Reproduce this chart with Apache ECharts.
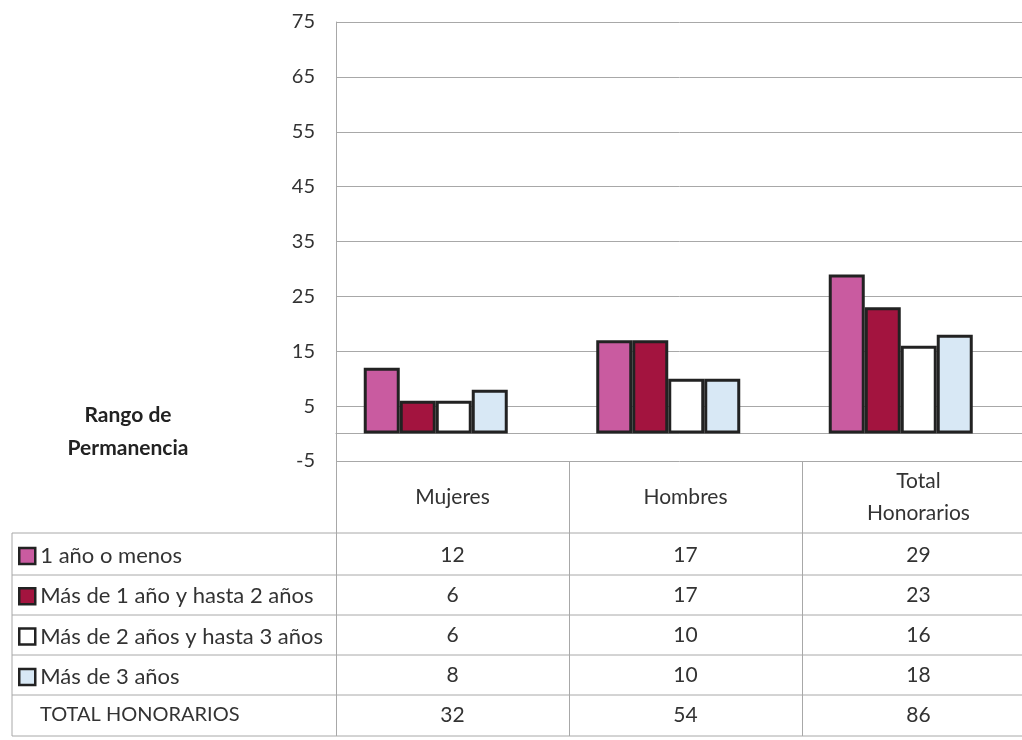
<!DOCTYPE html>
<html>
<head>
<meta charset="utf-8">
<style>
  html, body { margin: 0; background: #fff; }
  #chart { width: 1022px; height: 740px; }
</style>
<script src="https://cdn.jsdelivr.net/npm/echarts@6/dist/echarts.min.js"></script>
</head>
<body>
<div id="chart"></div>
<script>
  // datos
  const categories = ['Mujeres', 'Hombres', 'Total\nHonorarios'];
  const seriesNames = ['1 año o menos', 'Más de 1 año y hasta 2 años', 'Más de 2 años y hasta 3 años', 'Más de 3 años'];
  const unAnio = [12, 17, 29];
  const unoADos = [6, 17, 23];
  const dosATres = [6, 10, 16];
  const masDeTres = [8, 10, 18];
  const totalLabel = 'TOTAL HONORARIOS';
  const totalRow = [32, 54, 86];
  const yMin = -5, yMax = 75, yStep = 10;

  const seriesData = [unAnio, unoADos, dosATres, masDeTres];
  const colors = ['#C95BA0', '#A3143F', '#FFFFFF', '#D8E8F5'];
  const font = 'Lato, "Open Sans", sans-serif';
  const lineGrey = '#a8a8a8';

  const chart = echarts.init(document.getElementById('chart'));

  // table rows below the plot, one hidden axis per row
  const tableRows = seriesData.concat([totalRow]);
  const rowMargins = [94, 134, 174, 214, 254];
  const rowAxes = tableRows.map((row, i) => ({
    gridIndex: 0,
    type: 'category',
    data: categories,
    position: 'bottom',
    axisLine: { show: false, onZero: false },
    axisTick: { show: false },
    splitLine: { show: false },
    axisLabel: {
      margin: rowMargins[i],
      verticalAlign: 'middle',
      fontSize: 21,
      color: '#333',
      fontFamily: font,
      formatter: (v, idx) => String(row[idx])
    }
  }));

  const tableLinesY = [533, 575, 615, 655, 695, 736];

  const option = {
    backgroundColor: '#fff',
    animation: false,
    grid: [
      { left: 336, top: 22, width: 699, height: 439, outerBoundsMode: 'none' },
      { left: 319.5, top: 22, width: 697.5, height: 439, outerBoundsMode: 'none' }
    ],
    legend: {
      data: seriesNames,
      orient: 'vertical',
      left: 18,
      top: 545,
      padding: 0,
      itemWidth: 16,
      itemHeight: 16,
      itemGap: 18.3,
      icon: 'rect',
      selectedMode: false,
      itemStyle: { borderColor: '#222', borderWidth: 2.5 },
      textStyle: { fontSize: 22, lineHeight: 22, color: '#333', fontFamily: font }
    },
    xAxis: [
      {
        gridIndex: 0,
        type: 'category',
        data: categories,
        axisLine: { onZero: true, lineStyle: { color: lineGrey } },
        axisTick: { show: false },
        axisLabel: { show: false }
      },
      {
        gridIndex: 0,
        type: 'category',
        data: categories,
        position: 'bottom',
        axisLine: { show: false, onZero: false },
        axisTick: { show: true, length: 275, lineStyle: { color: lineGrey } },
        axisLabel: {
          margin: 36,
          verticalAlign: 'middle',
          fontSize: 21,
          lineHeight: 32,
          color: '#333',
          fontFamily: font
        }
      }
    ].concat(rowAxes).concat([
      { gridIndex: 1, type: 'category', data: categories, show: false }
    ]),
    yAxis: [
      {
        gridIndex: 0,
        type: 'value',
        min: yMin,
        max: yMax,
        interval: yStep,
        axisLine: { show: true, lineStyle: { color: lineGrey } },
        axisTick: { show: false },
        splitLine: { lineStyle: { color: lineGrey } },
        axisLabel: { margin: 21, fontSize: 20, color: '#333', fontFamily: font }
      },
      { gridIndex: 1, type: 'value', min: yMin, max: yMax, show: false }
    ],
    series: seriesData.map((d, i) => ({
      name: seriesNames[i],
      type: 'bar',
      xAxisIndex: 2 + tableRows.length,
      yAxisIndex: 1,
      data: d,
      barWidth: 36,
      barGap: '0%',
      itemStyle: { color: colors[i], borderColor: '#222', borderWidth: 3 }
    })),
    graphic: [
      {
        type: 'text',
        x: 128,
        y: 432,
        style: {
          text: 'Rango de\nPermanencia',
          align: 'center',
          verticalAlign: 'middle',
          lineHeight: 33,
          fill: '#222',
          font: 'bold 21px ' + font
        }
      },
      {
        type: 'text',
        x: 40,
        y: 715,
        style: { text: totalLabel, verticalAlign: 'middle', fill: '#333', font: '20px ' + font }
      },
      {
        type: 'line',
        shape: { x1: 12, y1: 533, x2: 12, y2: 736 },
        style: { stroke: lineGrey, lineWidth: 1 }
      }
    ].concat(tableLinesY.map(y => ({
      type: 'line',
      shape: { x1: 12, y1: y, x2: 1022, y2: y },
      style: { stroke: lineGrey, lineWidth: 1 }
    })))
  };

  chart.setOption(option);
</script>
</body>
</html>
